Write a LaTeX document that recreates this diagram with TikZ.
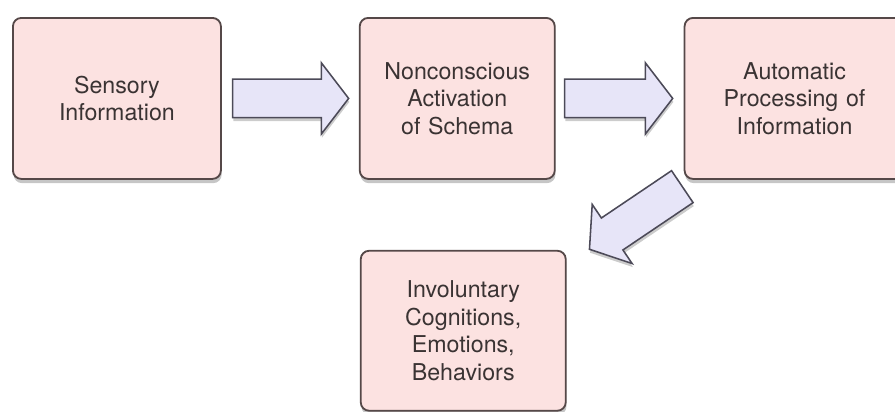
\documentclass[tikz,border=0pt]{standalone}
\usepackage{fontspec}
\setmainfont{TeX Gyre Heros}
\usetikzlibrary{positioning, calc, shapes.arrows, shadows}

\definecolor{boxpink}{HTML}{FCE2E1}
\definecolor{boxline}{HTML}{554848}
\definecolor{arrowlilac}{HTML}{E7E5F8}
\definecolor{arrowline}{HTML}{4C4A58}
\definecolor{textgray}{HTML}{3A3333}

\begin{document}
\begin{tikzpicture}[
                    node distance=3.4cm,
                    stage/.style={rectangle, draw=boxline, line width=1.3pt, fill=boxpink, rounded corners=6pt, text width=4.4cm, align=center, minimum height=4.025cm, text=textgray, font=\fontsize{16.5}{19.5}\selectfont, drop shadow={shadow xshift=0.5pt, shadow yshift=-3pt, opacity=0.45}},
                    flow/.style={single arrow, draw=arrowline, line width=1.1pt, fill=arrowlilac, minimum height=2.9cm, inner xsep=0pt, inner ysep=0.4625cm, single arrow head extend=0.41cm, single arrow tip angle=105, anchor=tip, drop shadow={shadow xshift=0.5pt, shadow yshift=-2.5pt, opacity=0.4}}
                ]
                \path[use as bounding box, clip] (0,0) rectangle (22.375,-10.275);
                \node[stage, minimum width=5.2cm, anchor=north west] (sens) at (0.3,-0.425) {Sensory\\Information};
                \node[stage, minimum width=4.875cm, right=3.425cm of sens] (act) {Nonconscious\\Activation\\of Schema};
                \node[stage, minimum width=5.5cm, right=3.2cm of act] (auto) {Automatic\\Processing of\\Information};
                \node[stage, minimum width=5.125cm, minimum height=4cm, below=1.75cm of act, xshift=0.15cm] (inv) {Involuntary\\Cognitions,\\Emotions,\\Behaviors};
                
                \node[flow] (a1) at ($(act.west)+(-0.23,0)$) {};
                \node[flow, minimum height=2.7cm] (a2) at ($(auto.west)+(-0.25,0)$) {};
                \node[flow, minimum height=2.8cm, rotate=214] (a3) at ($(inv.north east)+(0.55,0)$) {};
                \end{tikzpicture}
\end{document}
